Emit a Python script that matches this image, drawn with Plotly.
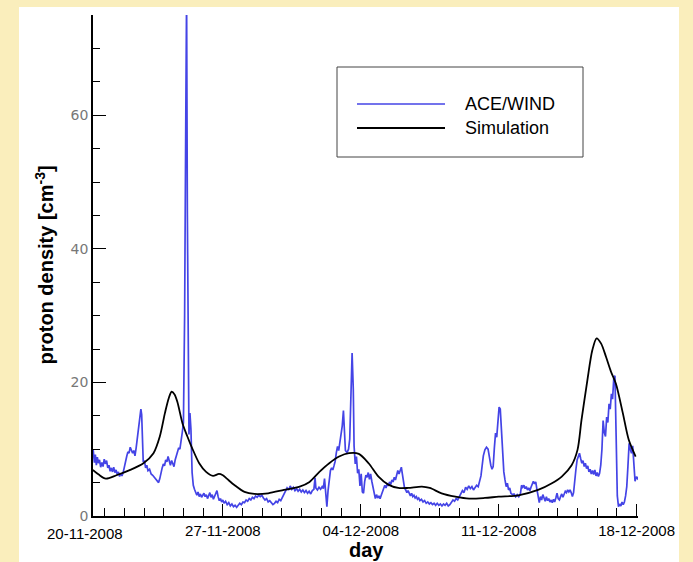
import plotly.graph_objects as go

# ---------------- data ----------------
# days counted from 20-11-2008 00:00
ace_day = [0.42,0.48,0.53,0.58,0.63,0.68,0.74,0.80,0.86,0.92,0.98,1.04,1.10,1.16,1.22,1.28,1.34,1.40,1.46,1.52,
 1.58,1.64,1.70,1.76,1.82,1.88,1.94,2.00,2.06,2.12,2.18,2.24,2.30,2.36,2.42,2.48,2.54,2.60,2.66,2.72,
 2.78,2.84,2.88,2.92,2.96,3.02,3.08,3.14,3.20,3.28,3.36,3.44,3.52,3.60,3.68,3.74,3.80,3.86,3.92,3.98,
 4.04,4.10,4.16,4.22,4.28,4.34,4.40,4.46,4.52,4.58,4.64,4.70,4.76,4.82,4.88,4.94,5.00,5.06,5.12,5.16,
 5.20,5.24,5.28,5.33,5.38,5.44,5.50,5.56,5.62,5.68,5.74,5.80,5.86,5.92,5.98,6.04,6.10,6.16,6.22,6.28,
 6.34,6.40,6.46,6.52,6.58,6.64,6.70,6.76,6.82,6.88,6.94,7.00,7.06,7.14,7.22,7.30,7.38,7.46,7.54,7.62,
 7.70,7.78,7.86,7.94,8.02,8.10,8.18,8.26,8.34,8.42,8.50,8.58,8.66,8.74,8.82,8.90,8.98,9.06,9.14,9.22,
 9.30,9.38,9.46,9.54,9.62,9.70,9.78,9.86,9.94,10.02,10.10,10.18,10.26,10.34,10.42,10.50,10.58,10.66,10.74,10.82,
 10.90,10.98,11.06,11.14,11.22,11.30,11.38,11.46,11.54,11.62,11.68,11.72,11.80,11.88,11.96,12.04,12.10,12.16,12.22,12.28,
 12.34,12.40,12.46,12.52,12.58,12.64,12.70,12.76,12.82,12.88,12.94,13.00,13.06,13.12,13.16,13.22,13.30,13.38,13.44,13.50,
 13.56,13.62,13.66,13.72,13.78,13.84,13.90,13.96,14.02,14.08,14.14,14.20,14.26,14.32,14.38,14.44,14.50,14.56,14.62,14.68,
 14.74,14.80,14.86,14.92,14.98,15.04,15.10,15.16,15.22,15.28,15.34,15.40,15.46,15.52,15.58,15.64,15.70,15.76,15.82,15.88,
 15.94,16.00,16.06,16.10,16.16,16.22,16.28,16.34,16.40,16.46,16.52,16.58,16.64,16.70,16.76,16.82,16.88,16.94,17.00,17.08,
 17.16,17.24,17.32,17.40,17.48,17.56,17.64,17.72,17.80,17.88,17.96,18.04,18.12,18.20,18.28,18.36,18.44,18.52,18.60,18.68,
 18.76,18.84,18.92,19.00,19.08,19.16,19.24,19.32,19.40,19.48,19.56,19.64,19.72,19.80,19.88,19.96,20.04,20.10,20.16,20.22,
 20.30,20.38,20.46,20.54,20.60,20.66,20.72,20.78,20.84,20.90,20.96,21.02,21.08,21.14,21.20,21.26,21.32,21.38,21.44,21.50,
 21.56,21.62,21.70,21.78,21.86,21.94,22.02,22.10,22.16,22.22,22.28,22.34,22.40,22.46,22.52,22.58,22.64,22.70,22.76,22.82,
 22.88,22.94,23.00,23.06,23.12,23.18,23.24,23.30,23.36,23.42,23.48,23.54,23.60,23.66,23.72,23.78,23.84,23.90,23.96,24.02,
 24.08,24.14,24.20,24.26,24.32,24.38,24.44,24.50,24.56,24.62,24.68,24.74,24.80,24.86,24.92,24.98,25.04,25.10,25.16,25.22,
 25.28,25.34,25.40,25.46,25.52,25.58,25.64,25.70,25.76,25.82,25.88,25.94,26.00,26.06,26.12,26.18,26.24,26.30,26.36,26.42,
 26.48,26.54,26.60,26.66,26.72,26.78,26.84,26.90,26.96,27.02,27.08,27.14,27.20,27.26,27.32,27.38,27.44,27.50,27.56,27.62,
 27.68,27.74,27.80,27.86,27.92,27.98,28.04,28.10]
ace_density = [9.9,8.0,9.2,7.6,8.8,7.9,8.4,7.3,8.0,7.4,8.5,7.8,8.3,7.2,7.6,6.7,7.2,6.6,7.3,6.5,
 6.9,6.2,6.6,5.9,6.4,6.0,6.5,7.4,8.4,8.9,9.6,9.4,10.3,9.9,9.4,9.8,9.0,10.2,11.5,13.2,
 14.0,16.0,15.2,11.0,8.1,8.3,7.2,7.6,6.8,7.0,6.3,6.1,5.8,5.5,5.2,5.0,5.6,6.6,7.2,7.8,
 7.5,8.4,8.1,8.9,8.2,7.6,8.3,7.8,7.4,8.4,9.1,9.6,10.2,10.0,11.0,12.5,14.0,30.0,60.0,78.0,
 45.0,14.0,12.2,15.4,13.0,6.5,4.6,4.0,3.5,3.1,3.6,2.9,3.3,2.8,3.1,3.4,2.9,3.2,2.6,3.0,
 3.5,2.8,3.2,2.5,2.9,3.3,3.8,2.9,2.3,2.6,2.1,2.4,1.9,2.2,1.7,2.0,1.5,1.8,1.4,1.6,
 1.3,1.6,1.9,1.7,2.1,2.0,2.4,2.2,2.6,2.4,2.8,2.6,3.0,2.8,3.1,2.9,3.1,2.7,2.4,2.6,
 2.1,2.3,1.9,1.7,1.9,2.2,2.0,2.5,2.3,2.8,3.3,3.9,4.2,3.9,4.5,4.0,4.3,3.8,4.1,3.7,
 4.0,3.6,3.9,3.5,3.8,3.4,3.7,3.3,3.8,4.0,5.7,4.2,3.9,4.3,4.0,4.4,4.1,5.6,4.0,1.4,
 3.8,5.8,6.8,7.2,6.9,7.5,8.2,9.5,10.4,9.8,11.0,11.8,13.5,15.8,12.0,9.8,9.5,10.0,11.5,17.0,
 24.4,19.0,10.5,7.8,8.9,6.4,7.0,4.5,6.3,3.6,3.4,5.2,6.1,5.8,6.5,5.5,6.3,5.2,4.3,3.0,
 2.6,3.2,2.7,3.0,2.6,3.1,3.6,4.2,4.6,4.2,4.8,4.5,5.1,4.7,5.4,5.1,5.8,5.4,6.2,6.8,
 6.3,7.0,7.3,6.5,5.0,4.2,3.9,3.5,3.8,3.3,3.0,3.4,2.9,3.1,2.7,2.9,2.5,2.7,2.3,2.5,
 2.1,2.3,1.9,2.1,1.8,2.0,1.7,1.9,1.6,1.9,1.6,1.8,1.5,1.8,1.6,1.9,1.5,1.7,2.0,2.4,
 2.2,2.6,2.4,2.9,3.2,3.8,3.5,4.3,4.0,4.5,4.1,4.4,3.9,4.3,4.6,4.4,5.2,6.0,7.5,9.0,
 9.9,10.3,10.0,8.5,7.6,7.0,7.4,10.2,12.4,11.8,14.5,16.3,16.0,13.0,9.0,6.6,5.4,4.4,4.9,3.9,
 4.2,3.4,3.2,3.3,2.9,3.2,2.9,3.3,4.6,4.3,4.6,4.1,4.4,3.9,4.2,3.8,4.3,4.9,5.2,4.8,
 5.1,4.0,3.0,2.0,2.9,2.4,3.2,2.6,2.2,2.9,2.3,2.6,2.1,2.4,2.0,2.5,2.1,2.7,3.4,2.6,
 2.4,2.9,3.3,2.8,3.4,3.7,3.5,3.9,3.6,3.9,3.5,2.9,3.5,5.9,7.0,8.4,8.8,9.4,8.6,7.9,
 8.3,7.4,7.9,7.1,7.5,6.6,7.0,6.3,6.8,6.2,6.9,6.0,6.5,5.9,6.4,7.6,10.0,14.3,12.5,11.9,
 14.8,14.0,16.8,16.0,18.3,17.5,20.6,21.0,12.0,3.0,1.4,1.8,1.5,2.1,1.7,2.1,3.0,4.4,7.5,10.9,
 10.0,9.4,10.5,7.0,5.2,5.9,5.6,5.9]

sim_day = [0.4,0.7,1.06,1.6,2.3,2.97,3.48,3.8,4.06,4.25,4.4,4.55,4.7,4.95,5.2,5.45,5.8,6.15,6.5,6.8,
 7.0,7.2,7.6,8.1,8.6,9.3,10.1,10.9,11.4,11.9,12.4,12.9,13.4,13.9,14.4,14.9,15.4,15.9,16.4,17.1,
 17.5,18.1,18.8,19.5,20.3,21.0,22.0,23.0,23.7,24.2,24.7,25.0,25.2,25.5,25.75,25.97,26.2,26.45,26.7,26.95,
 27.3,27.6,27.95]
sim_density = [6.9,6.2,5.6,6.1,6.9,7.9,9.4,11.9,15.4,17.6,18.6,18.2,17.0,13.9,11.9,10.1,7.9,6.6,6.0,6.3,
 6.1,5.6,4.6,3.6,3.3,3.4,3.9,4.4,5.1,6.6,7.9,8.9,9.4,9.3,7.9,5.9,4.7,4.2,4.2,4.4,
 4.2,3.4,2.9,2.6,2.7,2.9,3.1,3.9,4.9,5.9,7.6,9.9,14.3,20.3,24.8,26.6,25.8,23.8,21.6,19.8,
 15.4,11.4,8.9]

x_tick_days = [0, 7, 14, 21, 28]
x_tick_labels = ["20-11-2008", "27-11-2008", "04-12-2008", "11-12-2008", "18-12-2008"]
y_tick_vals = [0, 20, 40, 60]
series_names = ["ACE/WIND", "Simulation"]

BLUE = "#4444E6"
CREAM = "#FAEEBC"
FONT = "Liberation Sans, Arial, sans-serif"

fig = go.Figure()
fig.add_trace(go.Scatter(x=ace_day, y=ace_density, mode="lines", name=series_names[0],
                         line=dict(color=BLUE, width=1.7)))
fig.add_trace(go.Scatter(x=sim_day, y=sim_density, mode="lines", name=series_names[1],
                         line=dict(color="black", width=1.8, shape="spline", smoothing=0.8)))

L, R, T, B = 93, 55, 15, 46
W, H = 693, 562
pw, ph = W - L - R, H - T - B
X_RANGE = [0.41, 28.07]

def px(xp):
    return (xp - L) / pw

def py(yp):
    return (H - B - yp) / ph

def day_to_paper(d):
    return (d - X_RANGE[0]) / (X_RANGE[1] - X_RANGE[0])

shapes = [
    dict(type="rect", xref="paper", yref="paper", x0=px(19), x1=px(679), y0=py(600), y1=py(7),
         fillcolor="white", line=dict(width=0), layer="below"),
    dict(type="rect", xref="paper", yref="paper", x0=px(337), x1=px(583), y0=py(157), y1=py(67),
         fillcolor="white", line=dict(color="#444", width=1)),
    dict(type="line", xref="paper", yref="paper", x0=px(357), x1=px(445), y0=py(104), y1=py(104),
         line=dict(color=BLUE, width=1.6)),
    dict(type="line", xref="paper", yref="paper", x0=px(357), x1=px(445), y0=py(128), y1=py(128),
         line=dict(color="black", width=1.8)),
]

annotations = [
    dict(text=series_names[0], xref="paper", yref="paper", x=px(463), y=py(104), xanchor="left",
         yanchor="middle", showarrow=False, font=dict(family=FONT, size=18, color="black")),
    dict(text=series_names[1], xref="paper", yref="paper", x=px(463), y=py(128), xanchor="left",
         yanchor="middle", showarrow=False, font=dict(family=FONT, size=18, color="black")),
    dict(text="proton density [cm<sup>-3</sup>]", xref="paper", yref="paper", x=px(44), y=0.5,
         textangle=-90, xanchor="center", yanchor="middle", showarrow=False,
         font=dict(family=FONT, size=20, color="black", weight="bold")),
    dict(text="day", xref="paper", yref="paper", x=px(366), y=py(563), xanchor="center",
         yanchor="bottom", showarrow=False, font=dict(family=FONT, size=20, color="black", weight="bold")),
    dict(text=x_tick_labels[0], xref="paper", yref="paper", x=day_to_paper(x_tick_days[0]), y=py(524),
         xanchor="center", yanchor="top", showarrow=False, borderpad=0,
         font=dict(family=FONT, size=15, color="black")),
]

fig.update_layout(
    width=W, height=H,
    margin=dict(l=L, r=R, t=T, b=B, pad=0),
    paper_bgcolor=CREAM, plot_bgcolor="white",
    showlegend=False,
    shapes=shapes, annotations=annotations,
    xaxis=dict(range=X_RANGE, tickvals=x_tick_days[1:], ticktext=x_tick_labels[1:],
               showline=True, linecolor="black", linewidth=1.5, showgrid=False, zeroline=False,
               ticks="inside", ticklen=12, tickwidth=1.3, tickcolor="black",
               tickfont=dict(family=FONT, size=15, color="black"),
               minor=dict(dtick=1, tick0=0, ticks="inside", ticklen=8, tickwidth=1, tickcolor="black")),
    yaxis=dict(range=[0, 75], tickvals=y_tick_vals,
               showline=True, linecolor="black", linewidth=1.5, showgrid=False, zeroline=False,
               ticks="inside", ticklen=13, tickwidth=1.3, tickcolor="black",
               tickfont=dict(family="DejaVu Sans, sans-serif", size=14, color="#777"),
               minor=dict(dtick=5, tick0=0, ticks="inside", ticklen=7, tickwidth=1, tickcolor="black")),
)

fig.write_html("out.html")
